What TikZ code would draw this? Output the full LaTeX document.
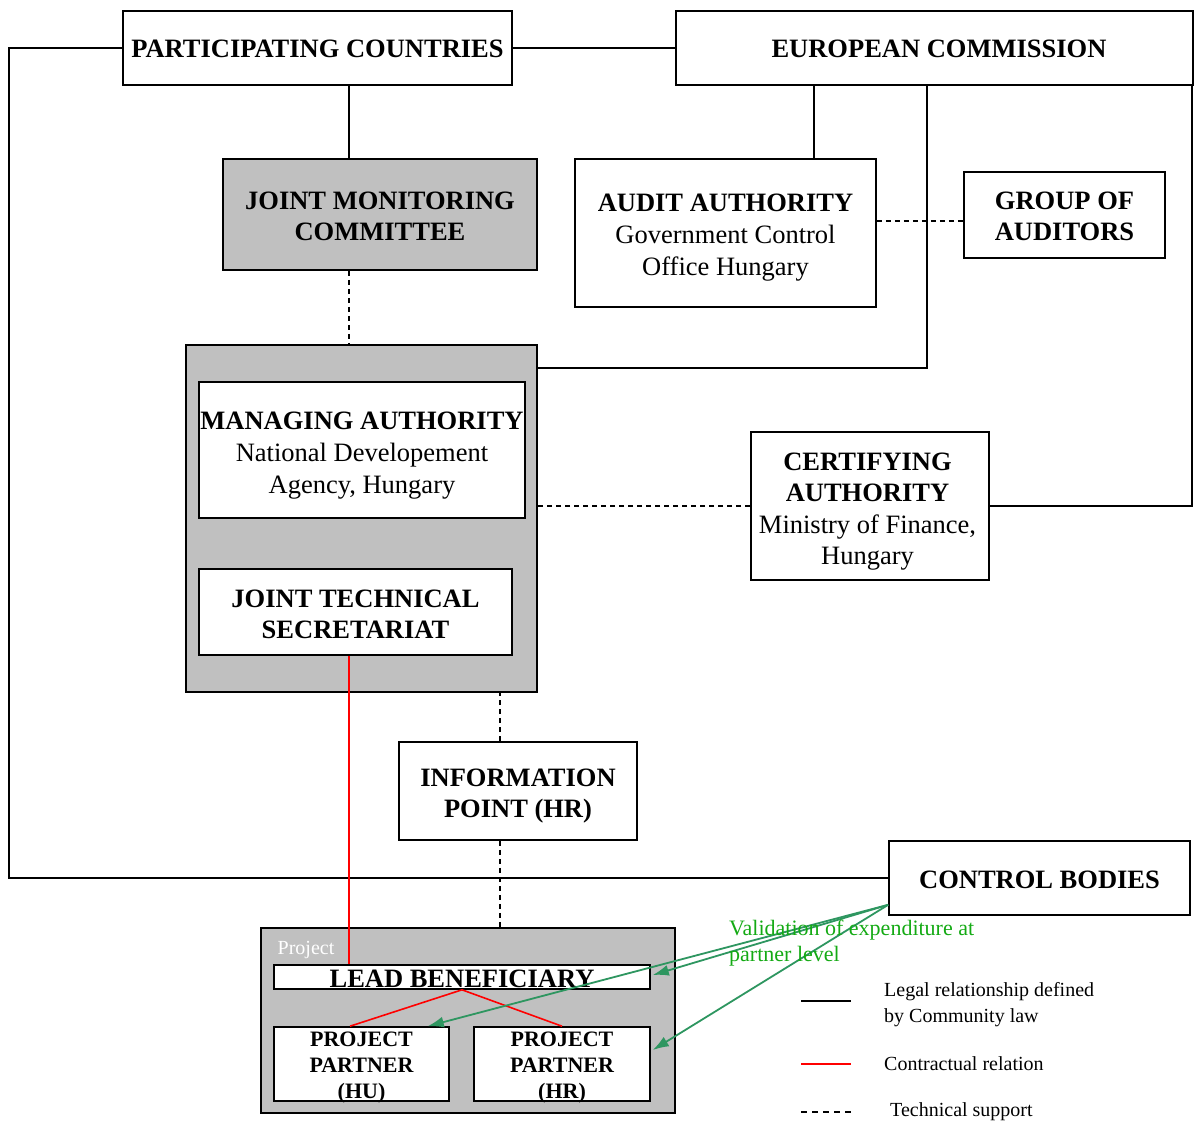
\documentclass[tikz,border=0pt]{standalone}
\usepackage{fontspec}
\setmainfont{Liberation Serif}
\usetikzlibrary{arrows.meta,calc}
\definecolor{boxgray}{RGB}{192,192,192}
\definecolor{arrgreen}{RGB}{46,150,96}
\definecolor{txtgreen}{RGB}{20,170,20}
\newcommand\mainfont{\fontsize{26.5}{32}\selectfont}
\newcommand\legfont{\fontsize{20}{26}\selectfont}
\begin{document}
\begin{tikzpicture}[x=1pt,y=-1pt,
  box/.style={draw, fill=white, line width=1.6pt, inner sep=0pt},
  graybox/.style={draw, fill=boxgray, line width=1.6pt, inner sep=0pt},
  lbl/.style={align=center, font=\mainfont, inner sep=0pt},
  pplbl/.style={align=center, font=\fontsize{22}{26}\selectfont, inner sep=0pt},
  conn/.style={line width=1.6pt},
  tech/.style={line width=1.5pt, dash pattern=on 5pt off 4pt},
  contract/.style={line width=1.6pt, red},
  valid/.style={line width=1.8pt, arrgreen, -{Latex[length=16pt,width=11pt]}},
  legtext/.style={anchor=west, align=left, inner sep=0pt, font=\legfont}
]
\useasboundingbox (0,0) rectangle (1194,1122);

% top row
\node[box, minimum width=389, minimum height=74,
  label={[lbl,yshift=-1pt]center:{\bfseries PARTICIPATING COUNTRIES}}] (pc) at (317.5,48) {};
\node[box, minimum width=517, minimum height=74,
  label={[lbl,xshift=4.5pt,yshift=-1pt]center:{\bfseries EUROPEAN COMMISSION}}] (ec) at (934.5,48) {};

% second row
\node[graybox, minimum width=314, minimum height=111,
  label={[lbl,font=\fontsize{26.5}{31}\selectfont,yshift=-2pt]center:{\bfseries JOINT MONITORING\\\bfseries COMMITTEE}}] (jmc) at (380,214.5) {};
\node[box, minimum width=301, minimum height=148,
  label={[lbl,yshift=-5pt]center:{\bfseries AUDIT AUTHORITY\\Government Control\\Office Hungary}}] (aa) at (725.5,233) {};
\node[box, minimum width=201, minimum height=86,
  label={[lbl,font=\fontsize{26.5}{31}\selectfont,yshift=-1.5pt]center:{\bfseries GROUP OF\\\bfseries AUDITORS}}] (goa) at (1064.5,215) {};

% container
\node[graybox, minimum width=351, minimum height=347] (cont) at (361.5,518.5) {};
\node[box, minimum width=326, minimum height=136,
  label={[lbl,yshift=-6pt]center:{\bfseries MANAGING AUTHORITY\\National Developement\\Agency, Hungary}}] (ma) at (362,450) {};
\node[box, minimum width=313, minimum height=86,
  label={[lbl,font=\fontsize{26.5}{31}\selectfont,yshift=-2pt]center:{\bfseries JOINT TECHNICAL\\\bfseries SECRETARIAT}}] (jts) at (355.5,612) {};

\node[box, minimum width=238, minimum height=148,
  label={[lbl,font=\fontsize{26.5}{31.5}\selectfont,xshift=-2.5pt,yshift=-5.5pt]center:{\bfseries CERTIFYING\\\bfseries AUTHORITY\\Ministry of Finance,\\Hungary}}] (ca) at (870,506) {};

\node[box, minimum width=238, minimum height=98,
  label={[lbl,font=\fontsize{26.5}{31}\selectfont,yshift=-5.5pt]center:{\bfseries INFORMATION\\\bfseries POINT (HR)}}] (ip) at (518,791) {};
\node[box, minimum width=301, minimum height=74,
  label={[lbl,yshift=-2pt]center:{\bfseries CONTROL BODIES}}] (cb) at (1039.5,878) {};

% project
\node[graybox, minimum width=414, minimum height=185] (proj) at (468,1020.5) {};
\node[text=white, font=\legfont, inner sep=0pt] (projlbl) at (306,950) {Project};
\node[box, minimum width=376, minimum height=24,
  label={[lbl,text height=20pt,text depth=0pt]center:{\bfseries LEAD BENEFICIARY}}] (lb) at (462,977) {};
\node[box, minimum width=175, minimum height=74,
  label={[pplbl,yshift=-4pt]center:{\bfseries PROJECT\\\bfseries PARTNER\\\bfseries (HU)}}] (pphu) at (361.5,1064) {};
\node[box, minimum width=176, minimum height=74,
  label={[pplbl,yshift=-4pt]center:{\bfseries PROJECT\\\bfseries PARTNER\\\bfseries (HR)}}] (pphr) at (562,1064) {};

% legal connectors
\draw[conn] (pc.west) -- ++(-113,0) |- (cb.west);
\draw[conn] (pc.east) -- (ec.west);
\draw[conn] ([xshift=-31]jmc.north) -- ([xshift=-31]jmc.north |- pc.south);
\draw[conn] ([xshift=88.5]aa.north) -- ([xshift=88.5]aa.north |- ec.south);
\draw[conn] ([xshift=-7.5]ec.south) |- ([yshift=-24]cont.north east);
\draw[conn] ([xshift=-2]ec.south east) |- (ca.east);

% technical support
\draw[tech] ([xshift=-31]jmc.south) -- ([xshift=-31]jmc.south |- cont.north);
\draw[tech] ([yshift=12]aa.east) -- ([yshift=12]aa.east -| goa.west);
\draw[tech] (ca.west) -- (ca.west -| cont.east);
\draw[tech] ([xshift=-18]ip.north) -- ([xshift=-18]ip.north |- cont.south);
\draw[tech] ([xshift=-18]ip.south) -- ([xshift=-18]ip.south |- proj.north);

% contractual
\draw[contract] ([xshift=-6.5]jts.south) -- ([xshift=-6.5]jts.south |- lb.north);
\draw[contract] (lb.south) -- ([xshift=-11.5]pphu.north);
\draw[contract] (lb.south) -- (pphr.north);

% validation
\coordinate (cbc) at ([yshift=11]cb.south west);
\draw[valid] (cbc) -- ([xshift=2,yshift=2]lb.east);
\draw[valid] (cbc) -- ([xshift=-22]pphu.north east);
\draw[valid] (cbc) -- ([xshift=2,yshift=14]pphr.east);
\node[anchor=north west, align=left, inner sep=0pt, text=txtgreen, font=\fontsize{22}{26}\selectfont] (vlbl) at (729,920) {Validation of expenditure at\\partner level};

% legend
\coordinate (l1a) at (801,1001); \coordinate (l1b) at (851,1001);
\coordinate (l2a) at (801,1064); \coordinate (l2b) at (851,1064);
\coordinate (l3a) at (801,1112); \coordinate (l3b) at (851,1112);
\draw[conn] (l1a) -- (l1b);
\draw[contract] (l2a) -- (l2b);
\draw[line width=1.5pt, dash pattern=on 6pt off 5pt] (l3a) -- (l3b);
\node[legtext] (lg1) at (884,1005) {Legal relationship defined\\by Community law};
\node[legtext] (lg2) at (884,1064) {Contractual relation};
\node[legtext] (lg3) at (890,1112) {Technical support};
\end{tikzpicture}
\end{document}
